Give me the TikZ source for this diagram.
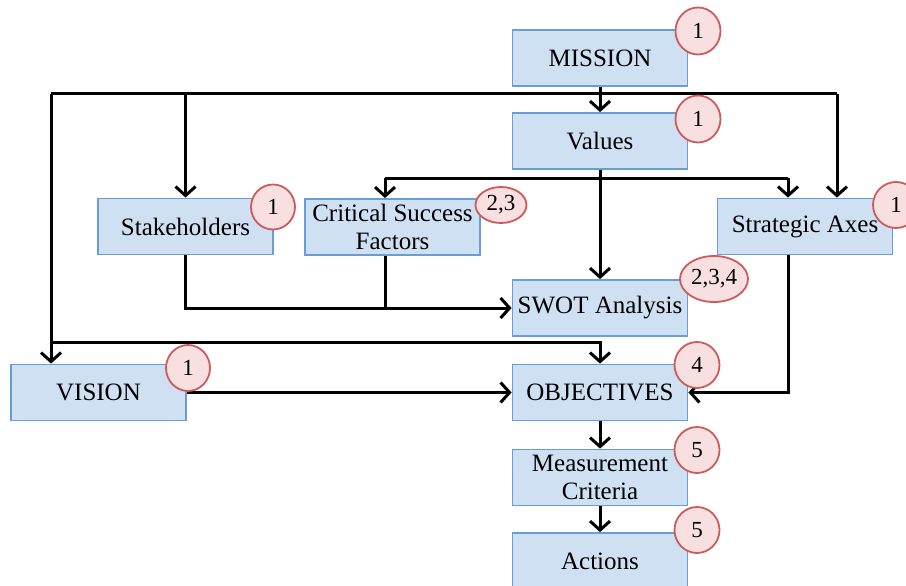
\documentclass[tikz,border=0pt]{standalone}
\usepackage{fontspec}
\setmainfont{Liberation Serif}
\usepackage{tikz}
\usetikzlibrary{arrows.meta}
\definecolor{boxfill}{RGB}{207,224,243}
\definecolor{boxline}{RGB}{104,158,212}
\definecolor{tagfill}{RGB}{248,224,224}
\definecolor{tagline}{RGB}{204,92,92}
\tikzset{
  stepbox/.style={draw=boxline,fill=boxfill,line width=1.8pt,minimum width=175pt,minimum height=56pt,inner sep=0pt,align=center,font=\fontsize{25}{28}\selectfont},
  tag/.style={draw=tagline,fill=tagfill,line width=1.8pt,ellipse,inner sep=0pt,font=\fontsize{23}{26}\selectfont},
  flow/.style={line width=3pt,-{Straight Barb[length=9pt,width=20pt]}},
  bus/.style={line width=3pt}
}
\usetikzlibrary{shapes.geometric}
\begin{document}
\begin{tikzpicture}[x=1pt,y=-1pt]
            \useasboundingbox (0,0) rectangle (906,586);
            \node[stepbox] (mission) at (600,58) {MISSION};
            \node[stepbox] (values) at (600,141) {Values};
            \node[stepbox] (stake) at (185.5,226.5) {Stakeholders};
            \node[stepbox] (csf) at (392.5,227) {Critical Success\\Factors};
            \node[stepbox] (axes) at (805,226.5) {Strategic Axes};
            \node[stepbox] (swot) at (600,308) {SWOT Analysis};
            \node[stepbox] (vision) at (98.5,392.5) {VISION};
            \node[stepbox] (obj) at (600,392.5) {OBJECTIVES};
            \node[stepbox] (meas) at (600,477.5) {Measurement\\Criteria};
            \node[stepbox] (act) at (600,561) {Actions};
            % joints of the lines
            \coordinate (busL) at (51,94);
            \coordinate (busR) at (837,94);
            \coordinate (valL) at (385,178);
            \coordinate (valR) at (788,178);
            \coordinate (objL) at (51,342);
            % lines
            \draw[flow] (mission) -- (values);
            \draw[bus] (busL) -- (busR);
            \draw[flow] (busL) -- (busL |- vision.north);
            \draw[flow] (stake.north |- busL) -- (stake.north);
            \draw[flow] (busR) -- (busR |- axes.north);
            \draw[bus] (valL) -- (valR);
            \draw[flow] (valL) -- (valL |- csf.north);
            \draw[flow] (valR) -- (valR |- axes.north);
            \draw[flow] (values) -- (swot);
            \draw[flow] (stake.south) |- (swot.west);
            \draw[bus] (valL |- csf.south) -- (valL |- swot.west);
            \draw[flow] (objL) -| (obj.north);
            \draw[flow] (vision) -- (obj);
            \draw[flow] (valR |- axes.south) |- (obj.east);
            \draw[flow] (obj) -- (meas);
            \draw[flow] (meas) -- (act);
            % badges
            \node[tag,minimum width=45pt,minimum height=47pt] (tmission) at (698,31) {1};
            \node[tag,minimum width=45pt,minimum height=47pt] (tvalues) at (698,119) {1};
            \node[tag,minimum width=44pt,minimum height=45pt] (tstake) at (273,207) {1};
            \node[tag,minimum width=51pt,minimum height=36pt] (tcsf) at (501,205) {2,3};
            \node[tag,minimum width=46pt,minimum height=46pt] (taxes) at (896,205) {1};
            \node[tag,minimum width=68pt,minimum height=46pt] (tswot) at (714,279) {2,3,4};
            \node[tag,minimum width=44pt,minimum height=46pt] (tvision) at (188,368) {1};
            \node[tag,minimum width=45pt,minimum height=46pt] (tobj) at (697,365) {4};
            \node[tag,minimum width=45pt,minimum height=46pt] (tmeas) at (697,450) {5};
            \node[tag,minimum width=45pt,minimum height=46pt] (tact) at (697,530) {5};
        \end{tikzpicture}
\end{document}
